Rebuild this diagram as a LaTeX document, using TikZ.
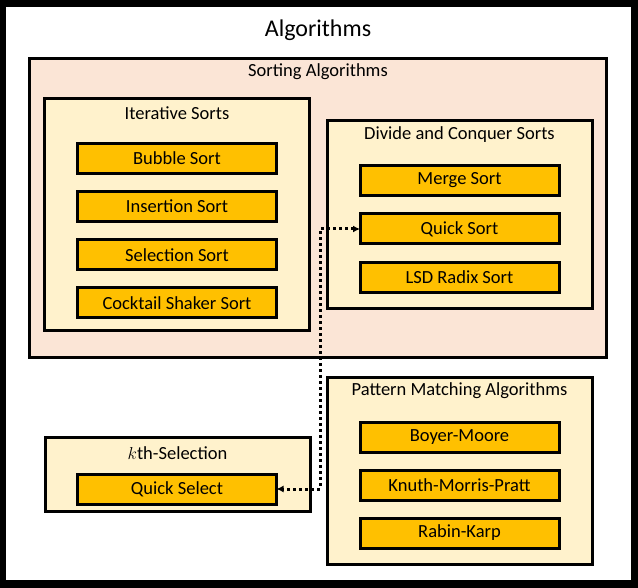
\documentclass[tikz,border=0pt]{standalone}
\usepackage{fontspec}
\setmainfont{Carlito}
\usetikzlibrary{arrows.meta}
\definecolor{sortbg}{HTML}{FBE5D6}
\definecolor{groupbg}{HTML}{FFF2CC}
\definecolor{algobg}{HTML}{FFC000}
\begin{document}
\begin{tikzpicture}[x=1pt,y=-1pt,
  group/.style={draw,line width=3pt,fill=groupbg,inner sep=0pt,outer sep=0pt},
  algo/.style={draw,line width=3pt,fill=algobg,inner sep=0pt,outer sep=0pt,
    minimum width=199pt,minimum height=30pt,font=\fontsize{18.5}{22}\selectfont},
  heading/.style={inner sep=0pt,font=\fontsize{18.5}{22}\selectfont},
  link/.style={line width=3pt,dash pattern=on 3pt off 3pt,{Latex[length=7pt,width=7pt]}-{Latex[length=7pt,width=7pt]}}]
  \useasboundingbox (0,0) rectangle (638,588);
  \fill[black] (0,0) rectangle (638,588);
  \fill[white] (6,7) rectangle (631,580);

  \node [inner sep=0pt,font=\fontsize{24}{28}\selectfont] (title) at (318,30) {Algorithms};

  \node [group,fill=sortbg,minimum width=577pt,minimum height=299pt] (sorting) at (318,208) {};
  \node [heading] (sortingtitle) at (318,72) {Sorting Algorithms};

  \node [group,minimum width=265pt,minimum height=232pt] (iterative) at (177,214.5) {};
  \node [heading] (iterativetitle) at (177,113) {Iterative Sorts};
  \node [algo] (bubble) at (177,158.5) {Bubble Sort};
  \node [algo] (insertion) at (177,206.5) {Insertion Sort};
  \node [algo] (selection) at (177,255) {Selection Sort};
  \node [algo] (cocktail) at (177,303) {Cocktail Shaker Sort};

  \node [group,minimum width=265pt,minimum height=188pt] (divide) at (459.5,215) {};
  \node [heading] (dividetitle) at (459.5,135) {Divide and Conquer Sorts};
  \node [algo] (merge) at (459.5,180.5) {Merge Sort};
  \node [algo] (qsort) at (459.5,229) {Quick Sort};
  \node [algo] (radix) at (459.5,277.5) {LSD Radix Sort};

  \node [group,minimum width=265pt,minimum height=187pt] (pattern) at (459.5,471) {};
  \node [heading] (patterntitle) at (459.5,391) {Pattern Matching Algorithms};
  \node [algo] (boyer) at (459.5,437) {Boyer-Moore};
  \node [algo] (kmp) at (459.5,485) {Knuth-Morris-Pratt};
  \node [algo] (rabin) at (459.5,533) {Rabin-Karp};

  \node [group,minimum width=265pt,minimum height=74pt] (kth) at (177.5,474.5) {};
  \node [heading] (kthtitle) at (177.5,453) {$k$th-Selection};
  \node [algo] (qselect) at (177,489) {Quick Select};

  \draw [link] (qsort.west) -- ++(-40,0) |- (qselect.east);
\end{tikzpicture}
\end{document}
